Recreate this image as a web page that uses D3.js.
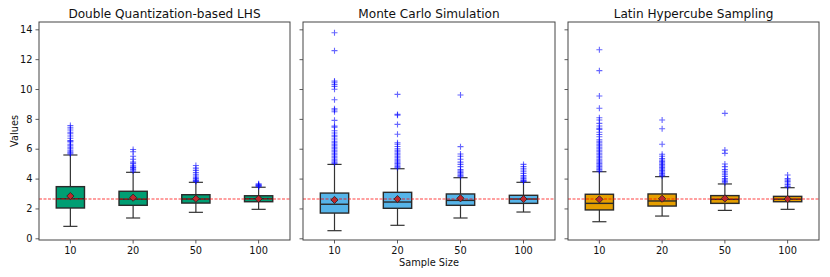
<!DOCTYPE html>
<html>
<head>
<meta charset="utf-8">
<script src="https://cdn.jsdelivr.net/npm/d3@7"></script>
<style>
  html, body { margin: 0; padding: 0; background: #fff; }
  svg { display: block; font-family: "DejaVu Sans", sans-serif; }
</style>
</head>
<body>
<svg id="chart" width="830" height="277"></svg>
<script>
// ---------------- DATA ----------------
const categories = ["10", "20", "50", "100"];
const panelTitles = ["Double Quantization-based LHS", "Monte Carlo Simulation", "Latin Hypercube Sampling"];
const yTicks = [0, 2, 4, 6, 8, 10, 12, 14];
const referenceValue = 2.63;

// each box: [whiskerLow, q1, median, q3, whiskerHigh, mean]
const dqBoxes = [
  [0.80, 2.03, 2.65, 3.46, 5.58, 2.83],
  [1.36, 2.21, 2.62, 3.15, 4.42, 2.72],
  [1.74, 2.36, 2.63, 2.92, 3.75, 2.65],
  [1.94, 2.45, 2.65, 2.85, 3.42, 2.65]
];
const mcBoxes = [
  [0.51, 1.69, 2.28, 3.03, 4.95, 2.57],
  [0.87, 2.01, 2.43, 3.08, 4.66, 2.63],
  [1.36, 2.21, 2.54, 2.97, 4.06, 2.68],
  [1.76, 2.34, 2.63, 2.88, 3.75, 2.63]
];
const lhsBoxes = [
  [1.11, 1.90, 2.34, 2.95, 4.46, 2.61],
  [1.49, 2.16, 2.50, 2.97, 4.13, 2.65],
  [1.87, 2.34, 2.61, 2.86, 3.64, 2.67],
  [1.94, 2.45, 2.62, 2.81, 3.39, 2.63]
];

const dqOutliers = [
  [5.65, 5.72, 5.8, 5.9, 6.0, 6.1, 6.2, 6.3, 6.45, 6.5, 6.55, 6.7, 6.85, 7.0, 7.1, 7.25, 7.4, 7.55],
  [4.5, 4.6, 4.7, 4.75, 4.85, 5.0, 5.1, 5.3, 5.5, 5.8, 5.95],
  [3.8, 3.85, 3.9, 4.0, 4.1, 4.25, 4.4, 4.55, 4.7, 4.88],
  [3.45, 3.5, 3.52, 3.55, 3.6, 3.65]
];
const mcOutliers = [
  [13.77, 12.57, 10.54, 10.45, 10.31, 10.18, 9.98, 9.28, 8.68, 8.59, 8.48, 7.9, 7.52, 7.45,
   7.2, 7.05, 6.9, 6.8, 6.65, 6.5, 6.4, 6.3, 6.2, 6.1, 6.0, 5.9, 5.8, 5.7, 5.6, 5.5, 5.4, 5.3, 5.2, 5.1, 5.02],
  [9.64, 8.3, 8.24, 7.63, 6.97, 6.4, 6.3, 6.15, 6.0, 5.9, 5.8, 5.7, 5.6, 5.5, 5.4, 5.3, 5.2, 5.1, 5.0, 4.9, 4.8, 4.72],
  [9.6, 6.14, 5.65, 5.5, 5.3, 5.1, 4.95, 4.8, 4.6, 4.5, 4.4, 4.3, 4.2, 4.12],
  [3.8, 3.85, 3.9, 4.0, 4.1, 4.2, 4.35, 4.5, 4.65, 4.8, 4.95]
];
const lhsOutliers = [
  [12.63, 11.23, 9.53, 8.71, 8.08, 7.92, 7.7, 7.52, 7.37, 7.3, 7.1, 6.95, 6.8, 6.6, 6.5, 6.4, 6.3, 6.2,
   6.1, 6.0, 5.9, 5.8, 5.7, 5.6, 5.5, 5.4, 5.3, 5.2, 5.1, 5.0, 4.9, 4.8, 4.7, 4.6, 4.5],
  [7.92, 7.34, 6.3, 5.63, 5.5, 5.35, 5.25, 5.15, 5.05, 4.95, 4.85, 4.75, 4.65, 4.55, 4.45, 4.35, 4.25, 4.18],
  [8.37, 5.91, 5.69, 4.98, 4.8, 4.6, 4.45, 4.3, 4.15, 4.0, 3.9, 3.8, 3.72],
  [4.24, 4.0, 3.9, 3.8, 3.7, 3.6, 3.5, 3.45]
];

const boxColors = ["#009E73", "#56B4E9", "#E69F00"];

// ---------------- LAYOUT ----------------
const panels = [
  { title: panelTitles[0], boxes: dqBoxes, outliers: dqOutliers, color: boxColors[0], x0: 39, x1: 290 },
  { title: panelTitles[1], boxes: mcBoxes, outliers: mcOutliers, color: boxColors[1], x0: 303, x1: 555 },
  { title: panelTitles[2], boxes: lhsBoxes, outliers: lhsOutliers, color: boxColors[2], x0: 568, x1: 819 }
];
const plotTop = 22, plotBottom = 240;

const svg = d3.select("#chart");
const y = d3.scaleLinear().domain([-0.114, 14.49]).range([plotBottom, plotTop]);

panels.forEach((p, pi) => {
  const x = d3.scaleBand().domain(categories).range([p.x0, p.x1]).paddingInner(0).paddingOuter(0);
  const bw = x.bandwidth() * 0.45;
  const cx = c => x(c) + x.bandwidth() / 2;
  const g = svg.append("g");

  // axes
  const yAxis = d3.axisLeft(y).tickValues(yTicks).tickSize(3.5).tickPadding(3)
    .tickFormat(pi === 0 ? d3.format("d") : "");
  const ya = g.append("g").attr("transform", `translate(${p.x0},0)`).call(yAxis);
  const xAxis = d3.axisBottom(x).tickSize(3.5).tickPadding(3.5);
  const xa = g.append("g").attr("transform", `translate(0,${plotBottom})`).call(xAxis);
  [ya, xa].forEach(a => {
    a.select(".domain").remove();
    a.selectAll(".tick line").attr("stroke", "#333").attr("stroke-width", 0.8);
    a.selectAll(".tick text").attr("fill", "#111").style("font-size", "9.8px")
      .style("font-family", "'DejaVu Sans', sans-serif");
  });

  // boxes
  p.boxes.forEach((b, i) => {
    const c = categories[i];
    const xc = cx(c);
    const [lo, q1, med, q3, hi] = b;
    g.append("line").attr("x1", xc).attr("x2", xc).attr("y1", y(q1)).attr("y2", y(lo))
      .attr("stroke", "#333").attr("stroke-width", 1.2);
    g.append("line").attr("x1", xc).attr("x2", xc).attr("y1", y(q3)).attr("y2", y(hi))
      .attr("stroke", "#333").attr("stroke-width", 1.2);
    [lo, hi].forEach(v => {
      g.append("line").attr("x1", xc - bw / 4).attr("x2", xc + bw / 4).attr("y1", y(v)).attr("y2", y(v))
        .attr("stroke", "#333").attr("stroke-width", 1.2);
    });
    g.append("rect").attr("x", xc - bw / 2).attr("width", bw)
      .attr("y", y(q3)).attr("height", y(q1) - y(q3))
      .attr("fill", p.color).attr("stroke", "#2a2a2a").attr("stroke-width", 1.4);
    g.append("line").attr("x1", xc - bw / 2).attr("x2", xc + bw / 2).attr("y1", y(med)).attr("y2", y(med))
      .attr("stroke", "#2a2a2a").attr("stroke-width", 1.4);
    p.outliers[i].forEach(v => {
      g.append("path")
        .attr("d", "M-3,0H3M0,-3V3")
        .attr("transform", `translate(${xc},${y(v)})`)
        .attr("stroke", "#0000ff").attr("stroke-opacity", 0.6).attr("stroke-width", 1.1).attr("fill", "none");
    });
  });

  // reference line
  g.append("line").attr("x1", p.x0).attr("x2", p.x1).attr("y1", y(referenceValue)).attr("y2", y(referenceValue))
    .attr("stroke", "#ff0000").attr("stroke-opacity", 0.5).attr("stroke-width", 1.5)
    .attr("stroke-dasharray", "3,1.5");

  // means
  p.boxes.forEach((b, i) => {
    const xc = cx(categories[i]);
    g.append("path").attr("d", "M0,-3.6L3.6,0L0,3.6L-3.6,0Z")
      .attr("transform", `translate(${xc},${y(b[5])})`)
      .attr("fill", "#c0282d").attr("stroke", "#222").attr("stroke-width", 0.8);
  });

  // frame
  g.append("rect").attr("x", p.x0).attr("y", plotTop).attr("width", p.x1 - p.x0).attr("height", plotBottom - plotTop)
    .attr("fill", "none").attr("stroke", "#444").attr("stroke-width", 1);

  // title
  g.append("text").attr("x", (p.x0 + p.x1) / 2).attr("y", 18).attr("text-anchor", "middle")
    .style("font-size", "12.1px").attr("fill", "#111").text(p.title);
});

// axis labels
svg.append("text").attr("transform", `translate(17.5,${(plotTop + plotBottom) / 2}) rotate(-90)`)
  .attr("text-anchor", "middle").style("font-size", "9.8px").attr("fill", "#111").text("Values");
svg.append("text").attr("x", (panels[1].x0 + panels[1].x1) / 2).attr("y", 265.5)
  .attr("text-anchor", "middle").style("font-size", "9.8px").attr("fill", "#111").text("Sample Size");
</script>
</body>
</html>
